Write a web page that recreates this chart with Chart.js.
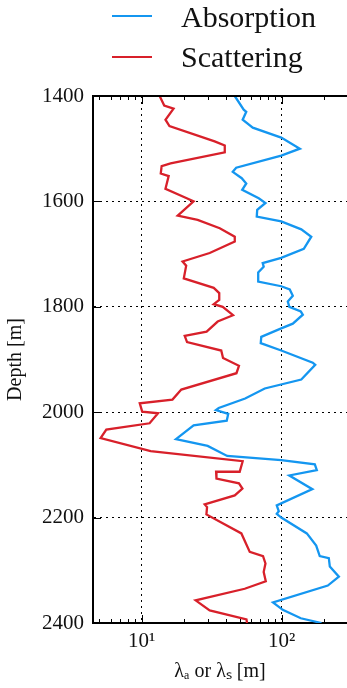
<!DOCTYPE html>
<html>
<head>
<meta charset="utf-8">
<script src="https://cdn.jsdelivr.net/npm/chart.js@4.4.1/dist/chart.umd.min.js"></script>
<style>
  body { margin: 0; background: #fff; }
  #wrap { position: relative; width: 347px; height: 688px; overflow: hidden; }
  #legend { position: absolute; top: 0; left: 0; width: 347px; height: 90px;
            font-family: 'Liberation Serif', serif; font-size: 30px; color: #111; }
  .swatch { position: absolute; left: 112px; width: 40px; height: 2px; }
  .label { position: absolute; left: 181px; line-height: 30px; white-space: nowrap; }
</style>
</head>
<body>
<div id="wrap">
  <canvas id="depth-chart" width="347" height="688"></canvas>
  <div id="legend"></div>
</div>
<script>
// absorption length vs depth (vertices)
let absDepth = [1400, 1426, 1430, 1445, 1460, 1479, 1500, 1513, 1536, 1544, 1556, 1566, 1578, 1594, 1603,
  1616, 1629, 1638, 1653, 1667, 1690, 1707, 1717, 1724, 1735, 1752, 1761, 1767, 1779, 1790, 1800, 1809,
  1815, 1832, 1841, 1857, 1869, 1883, 1906, 1910, 1938, 1955, 1974, 1992, 1996, 2003, 2016, 2025, 2051,
  2064, 2083, 2091, 2099, 2110, 2120, 2146, 2177, 2188, 2193, 2200, 2230, 2253, 2273, 2277, 2293, 2312,
  2329, 2361, 2375, 2391, 2400];
let absLength = [46.2, 53.5, 55.8, 52.6, 62.1, 99.1, 134.5, 99.1, 47.3, 44.7, 51.8, 55.8, 52.2, 68.5, 76.5,
  66.8, 66.3, 99.1, 137.8, 162.4, 143.6, 99, 73.1, 74.3, 67.9, 67.9, 99.1, 114, 119.9, 110.4, 113.2, 136.7,
  141.3, 119.9, 99.1, 71.4, 70.8, 99.1, 166.4, 173.3, 137.8, 75.6, 54.8, 35.5, 33.9, 41.5, 40.5, 23.5, 17.6,
  29.6, 40.8, 99.1, 172.1, 177.8, 113.2, 165.3, 92.1, 95.2, 92.1, 99.1, 150.9, 176, 186.6, 216.6, 220.2, 255.5,
  213.1, 86.6, 101.6, 136.7, 192];

// scattering length vs depth
let scaDepth = [1400, 1418, 1424, 1445, 1457, 1486, 1494, 1507, 1528, 1533, 1547, 1552, 1576, 1594, 1600,
  1627, 1635, 1651, 1667, 1676, 1698, 1714, 1722, 1746, 1764, 1774, 1787, 1795, 1800, 1816, 1828, 1847,
  1855, 1867, 1883, 1897, 1912, 1926, 1957, 1976, 1983, 1999, 2002, 2021, 2033, 2049, 2074, 2093, 2113,
  2113, 2126, 2135, 2145, 2158, 2175, 2180, 2194, 2230, 2265, 2273, 2287, 2303, 2321, 2335, 2357, 2376,
  2393, 2400];
let scaLength = [13.45, 14.5, 16.9, 14.8, 15.8, 33.2, 39.2, 39.2, 16.1, 13.9, 13.7, 15.6, 14.8, 21, 23.5,
  18.1, 25.1, 36.1, 46.2, 46.2, 30.6, 19.6, 20.8, 20, 32.7, 35.8, 35.8, 32.7, 37.9, 44.9, 34.9, 29.1,
  20.3, 21.1, 37, 38.1, 49.5, 47.5, 19.2, 16.6, 9.7, 10.1, 13.1, 11.4, 5.6, 5.1, 11.6, 52.6, 50.1,
  34, 34.2, 49.5, 52.4, 46.2, 28.2, 29.3, 29, 51.5, 59.1, 73.5, 76.5, 74.3, 76.9, 54.4, 24.3, 30.6,
  56, 56.5];

let seriesLabels = ['Absorption', 'Scattering'];
let seriesColors = ['#1496f0', '#d8202a'];

// axis ticks
let xMajorTicks = [10, 100];
let xMajorLabels = ['10\u00b9', '10\u00b2'];
let xMinorTicks = [5, 6, 7, 8, 9, 20, 30, 40, 50, 60, 70, 80, 90, 200];
let yTicks = [1400, 1600, 1800, 2000, 2200, 2400];

function toPoints(depths, values) {
  return depths.map((d, i) => ({ x: values[i], y: d }));
}

Chart.defaults.font.family = "'Liberation Serif', serif";
Chart.defaults.color = '#111';

// inner tick marks + top frame, like the matplotlib box
let frameTicks = {
  id: 'frameTicks',
  afterDraw(chart) {
    let { ctx, chartArea: a, scales: { x, y } } = chart;
    ctx.save();
    ctx.strokeStyle = '#000';
    ctx.lineWidth = 2;
    ctx.beginPath();
    ctx.moveTo(a.left - 1, a.top);
    ctx.lineTo(a.right, a.top);
    ctx.stroke();

    ctx.lineWidth = 1;
    let mark = (x1, y1, x2, y2) => {
      ctx.beginPath();
      ctx.moveTo(x1, y1);
      ctx.lineTo(x2, y2);
      ctx.stroke();
    };
    xMajorTicks.concat(xMinorTicks).forEach(v => {
      let px = Math.round(x.getPixelForValue(v)) + 0.5;
      let len = xMajorTicks.includes(v) ? 8 : 4;
      mark(px, a.bottom, px, a.bottom - len);
      mark(px, a.top, px, a.top + len);
    });
    yTicks.forEach(v => {
      let py = Math.round(y.getPixelForValue(v)) + 0.5;
      mark(a.left, py, a.left + 8, py);
    });
    ctx.restore();
  }
};

let chart = new Chart(document.getElementById('depth-chart').getContext('2d'), {
  type: 'scatter',
  data: {
    datasets: [
      {
        label: seriesLabels[0],
        data: toPoints(absDepth, absLength),
        showLine: true,
        borderColor: seriesColors[0],
        backgroundColor: seriesColors[0],
        borderWidth: 2.3,
        pointRadius: 0,
        tension: 0,
      },
      {
        label: seriesLabels[1],
        data: toPoints(scaDepth, scaLength),
        showLine: true,
        borderColor: seriesColors[1],
        backgroundColor: seriesColors[1],
        borderWidth: 2.3,
        pointRadius: 0,
        tension: 0,
      },
    ],
  },
  options: {
    responsive: false,
    animation: false,
    layout: { padding: { top: 96, left: 0, right: 0, bottom: 0 } },
    plugins: {
      legend: { display: false },
      tooltip: { enabled: false },
    },
    scales: {
      x: {
        type: 'logarithmic',
        position: 'bottom',
        min: 4.5,
        max: 292,
        afterFit: (scale) => {
          scale.height = 65;
          // no extra room for edge labels, the plot runs to the right edge
          scale.paddingRight = 0;
          scale.paddingLeft = 0;
        },
        grid: {
          drawTicks: false,
          lineWidth: 1,
          color: (c) => (c.tick && xMajorTicks.includes(c.tick.value)) ? '#000' : 'rgba(0,0,0,0)',
        },
        border: { display: true, color: '#000', width: 2, dash: [2, 4] },
        ticks: {
          autoSkip: false,
          maxRotation: 0,
          padding: 6,
          font: { size: 21 },
          callback: (value) => {
            let i = xMajorTicks.indexOf(value);
            return i >= 0 ? xMajorLabels[i] : '';
          },
        },
        title: {
          display: true,
          text: '\u03bb\u2090 or \u03bb\u209b [m]',
          font: { size: 20 },
          padding: { top: 0, bottom: 4 },
        },
      },
      y: {
        type: 'linear',
        reverse: true,
        min: 1400,
        max: 2400,
        afterFit: (scale) => { scale.width = 93; },
        afterBuildTicks: (scale) => { scale.ticks = yTicks.map(v => ({ value: v })); },
        grid: {
          drawTicks: false,
          lineWidth: 1,
          color: (c) => (c.tick && c.tick.value > 1400 && c.tick.value < 2400) ? '#000' : 'rgba(0,0,0,0)',
        },
        border: { display: true, color: '#000', width: 2, dash: [2, 4] },
        ticks: {
          padding: 9,
          font: { size: 21 },
          callback: (value) => String(value),
        },
        title: {
          display: true,
          text: 'Depth [m]',
          font: { size: 20 },
          padding: { top: 4, bottom: 0 },
        },
      },
    },
  },
  plugins: [frameTicks],
});

// legend as html, one row per dataset
let legend = document.getElementById('legend');
chart.data.datasets.forEach((ds, i) => {
  let sw = document.createElement('div');
  sw.className = 'swatch';
  sw.style.top = (15 + 41 * i) + 'px';
  sw.style.background = ds.borderColor;
  let lb = document.createElement('div');
  lb.className = 'label';
  lb.style.top = (2 + 40 * i) + 'px';
  lb.textContent = ds.label;
  legend.appendChild(sw);
  legend.appendChild(lb);
});
</script>
</body>
</html>
